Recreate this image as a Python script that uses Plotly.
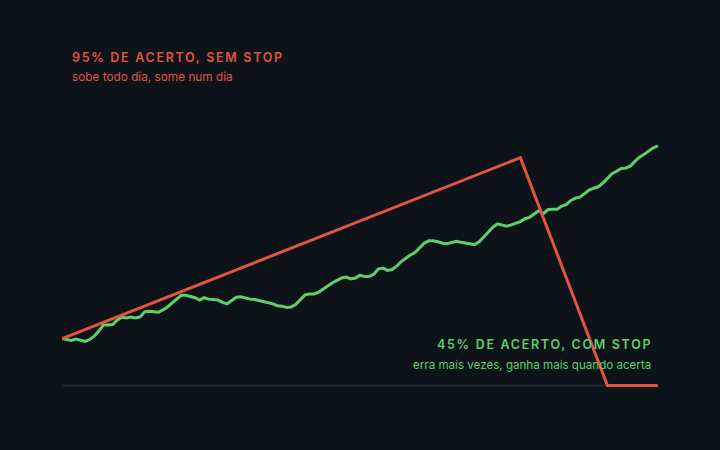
import plotly.graph_objects as go

# Days
green_days = list(range(0, 131))
green_values = [
    100, 98, 96, 99, 96, 94, 98, 105, 116, 129,
    129, 130, 139, 146, 144, 146, 144, 146, 157, 158,
    157, 156, 161, 167, 176, 185, 192, 192, 190, 187,
    182, 187, 184, 183, 182, 177, 174, 181, 188, 189,
    186, 184, 183, 181, 179, 177, 174, 170, 169, 166,
    167, 173, 182, 193, 195, 195, 199, 206, 212, 219,
    224, 229, 231, 227, 229, 235, 232, 232, 237, 248,
    250, 245, 247, 254, 264, 271, 278, 283, 293, 303,
    308, 308, 306, 303, 302, 304, 307, 305, 304, 302,
    300, 306, 316, 326, 337, 344, 342, 339, 342, 346,
    349, 355, 358, 365, 372, 366, 374, 375, 375, 382,
    385, 394, 399, 401, 409, 416, 420, 423, 431, 442,
    451, 456, 462, 463, 467, 477, 486, 492, 500, 506,
    510,
]

red_days = [0, 100, 119, 130]
red_values = [100, 485, 0, 0]

baseline_days = [0, 130]
baseline_values = [0, 0]

RED = "#e0553f"
GREEN = "#5ecf6b"
BG = "#0e1319"

fig = go.Figure()
fig.add_trace(go.Scatter(x=baseline_days, y=baseline_values, mode="lines",
                         line=dict(color="#23282f", width=2), hoverinfo="skip"))
fig.add_trace(go.Scatter(x=green_days, y=green_values, mode="lines",
                         line=dict(color=GREEN, width=3), hoverinfo="skip"))
fig.add_trace(go.Scatter(x=red_days, y=red_values, mode="lines",
                         line=dict(color=RED, width=3), hoverinfo="skip"))

FONT = "Inter"
fig.add_annotation(xref="paper", yref="paper", x=0.028, y=1.196, xanchor="left", yanchor="middle",
                   align="left", text="95% DE ACERTO, SEM STOP", showarrow=False,
                   font=dict(family=FONT, size=12.5, color=RED, weight=600))
fig.add_annotation(xref="paper", yref="paper", x=0.028, y=1.129, xanchor="left", yanchor="middle",
                   align="left", text="sobe todo dia, some num dia", showarrow=False,
                   font=dict(family=FONT, size=11.8, color=RED))
fig.add_annotation(xref="paper", yref="paper", x=0.916, y=0.179, xanchor="right", yanchor="middle",
                   align="left", text="45% DE ACERTO, COM STOP", showarrow=False,
                   font=dict(family=FONT, size=12.5, color=GREEN, weight=600))
fig.add_annotation(xref="paper", yref="paper", x=0.977, y=0.108, xanchor="right", yanchor="middle",
                   text="erra mais vezes, ganha mais quando acerta", showarrow=False,
                   font=dict(family=FONT, size=11.6, color=GREEN))

fig.update_layout(
    width=720, height=450,
    paper_bgcolor=BG, plot_bgcolor=BG,
    margin=dict(l=52.8, r=52.8, t=113.4, b=54.6),
    showlegend=False,
    hovermode=False,
    xaxis=dict(range=[-2, 132], visible=False, fixedrange=True),
    yaxis=dict(range=[-20, 580], visible=False, fixedrange=True),
)

post = """
var fix = function(){
  document.body.style.margin = '0';
  document.body.style.background = '#0e1319';
  document.body.style.overflow = 'hidden';
  document.querySelectorAll('text.annotation-text').forEach(function(t){
    if (/ACERTO/.test(t.textContent)) { t.style.letterSpacing = '1.7px'; }
  });
};
fix(); setTimeout(fix, 0); setTimeout(fix, 300);
var gd = document.getElementById('{plot_id}');
if (gd && gd.on) { gd.on('plotly_afterplot', fix); }
"""

fig.write_html("out.html", post_script=post, config={"displayModeBar": False, "staticPlot": True})
